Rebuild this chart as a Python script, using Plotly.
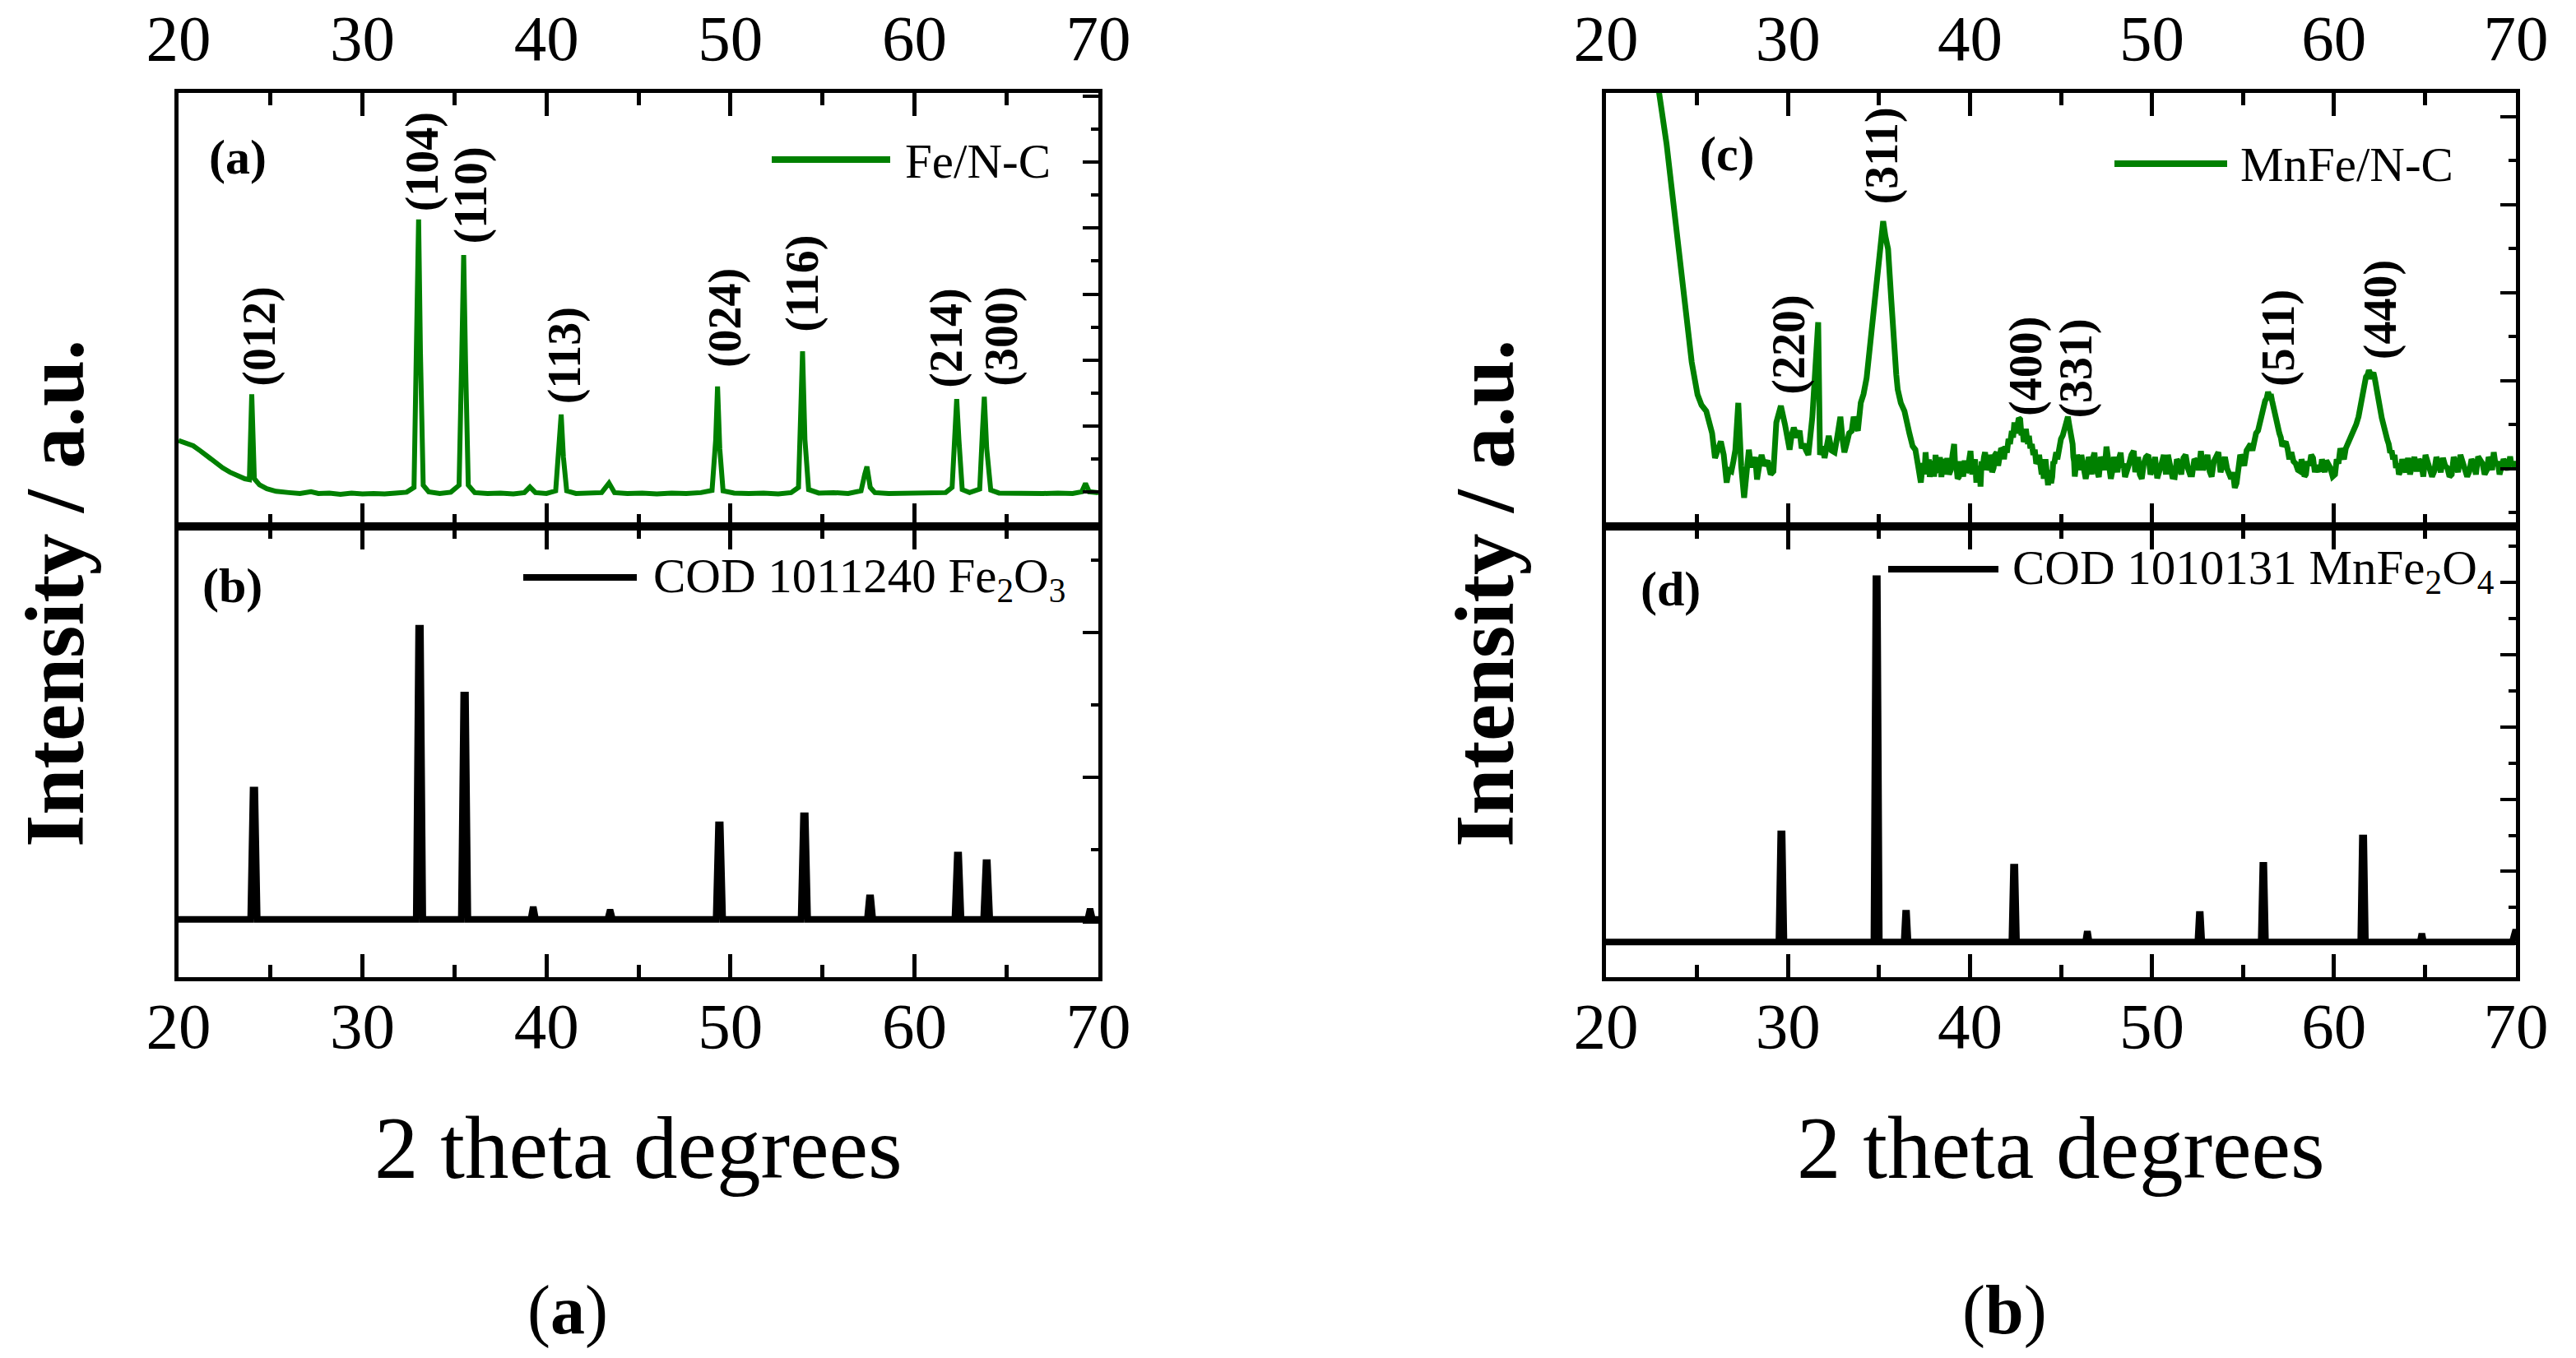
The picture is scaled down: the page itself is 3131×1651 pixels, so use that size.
import plotly.graph_objects as go

W, H = 3131, 1651
SERIF = "Liberation Serif"
GREEN = "rgb(0,128,0)"

# ---------------- data (2theta in degrees, intensity in a.u.) ----------------
fe_nc_x = [20.0, 20.4, 20.8, 21.2, 21.6, 22.0, 22.4, 22.8, 23.2, 23.6, 23.85, 23.98, 24.12,
           24.4, 24.8, 25.3, 26.0, 26.6, 27.2, 27.6, 28.2, 28.8, 29.4, 30.0, 30.6, 31.2,
           31.8, 32.4, 32.8, 32.95, 33.05, 33.15, 33.3, 33.6, 34.2, 34.8, 35.25, 35.4,
           35.5, 35.6, 35.75, 36.1, 36.8, 37.5, 38.2, 38.8, 39.1, 39.4, 40.0, 40.5, 40.7,
           40.8, 40.92, 41.1, 41.6, 42.3, 43.0, 43.4, 43.7, 44.4, 45.2, 46.0, 46.8, 47.6,
           48.4, 49.0, 49.2, 49.3, 49.42, 49.6, 50.2, 51.0, 51.8, 52.6, 53.3, 53.7, 53.83,
           53.92, 54.05, 54.25, 54.8, 55.6, 56.4, 57.1, 57.3, 57.42, 57.6, 57.85, 58.6,
           59.4, 60.2, 61.0, 61.7, 62.05, 62.2, 62.3, 62.42, 62.6, 63.0, 63.55, 63.7,
           63.8, 63.93, 64.15, 64.6, 65.4, 66.2, 67.0, 67.8, 68.6, 69.1, 69.3, 69.5, 70.0]
fe_nc_y = [19.8, 19.2, 18.6, 17.4, 16.0, 14.7, 13.5, 12.5, 11.7, 11.0, 10.8, 30.5, 11.0,
           9.6, 8.7, 8.1, 7.8, 7.6, 8.0, 7.6, 7.7, 7.4, 7.7, 7.5, 7.6, 7.5,
           7.7, 7.9, 9.0, 40.0, 70.8, 40.0, 9.5, 8.0, 7.6, 7.9, 9.5, 40.0,
           62.6, 38.0, 9.5, 7.8, 7.6, 7.7, 7.5, 7.8, 9.1, 7.8, 7.6, 8.2, 18.0,
           25.8, 16.0, 8.2, 7.6, 7.7, 7.8, 10.0, 7.8, 7.6, 7.7, 7.5, 7.7, 7.6,
           7.8, 8.3, 20.0, 32.3, 18.0, 8.2, 7.7, 7.6, 7.7, 7.5, 7.8, 9.0, 25.0,
           40.4, 20.0, 8.5, 7.7, 7.8, 7.6, 8.2, 12.0, 13.8, 9.0, 7.8, 7.6,
           7.7, 7.6, 7.7, 7.8, 9.0, 24.0, 29.4, 20.0, 8.5, 7.8, 8.6, 22.0,
           29.9, 18.0, 8.4, 7.7, 7.6, 7.7, 7.6, 7.7, 7.6, 8.0, 9.9, 8.0, 7.8]

fe_ref_x = [20.0, 23.92, 24.05, 24.15, 24.28, 32.92, 33.05, 33.15, 33.28, 35.37, 35.5, 35.6,
            35.73, 39.15, 39.25, 39.31, 39.41, 43.33, 43.43, 43.49, 43.59, 49.22, 49.35,
            49.45, 49.58, 53.84, 53.97, 54.07, 54.2, 57.44, 57.55, 57.63, 57.74, 62.2,
            62.33, 62.41, 62.54, 63.76, 63.89, 63.97, 64.1, 69.42, 69.52, 69.58, 69.68, 70.0]
fe_ref_y = [12.8, 12.8, 41.5, 41.5, 12.8, 12.8, 77.4, 77.4, 12.8, 12.8, 62.6, 62.6,
            12.8, 12.8, 15.0, 15.0, 12.8, 12.8, 14.4, 14.4, 12.8, 12.8, 33.8,
            33.8, 12.8, 12.8, 35.8, 35.8, 12.8, 12.8, 17.6, 17.6, 12.8, 12.8,
            27.1, 27.1, 12.8, 12.8, 25.4, 25.4, 12.8, 12.8, 14.6, 14.6, 12.8, 12.8]

mnfe_nc_x = [21.8, 22.92, 23.33, 23.62, 23.95, 24.29, 24.57, 24.71, 25.03, 25.25, 25.51, 25.7,
             25.83, 25.99, 26.15, 26.31, 26.47, 26.63, 26.75, 26.89, 27.0, 27.11, 27.27,
             27.43, 27.59, 27.7, 27.85, 27.95, 28.07, 28.2, 28.3, 28.42, 28.55, 28.7,
             28.88, 29.05, 29.2, 29.36, 29.61, 29.84, 29.95, 30.09, 30.2, 30.32, 30.5,
             30.64, 30.75, 30.86, 31.0, 31.12, 31.34, 31.5, 31.66, 31.76, 31.9, 32.01,
             32.12, 32.24, 32.4, 32.56, 32.72, 32.88, 33.0, 33.1, 33.25, 33.36, 33.5,
             33.61, 33.75, 33.84, 34.0, 34.15, 34.32, 34.53, 34.75, 34.94, 35.1, 35.23,
             35.35, 35.5, 35.68, 35.8, 35.95, 36.03, 36.2, 36.4, 36.55, 36.67, 36.85,
             37.0, 37.15, 37.3, 37.38, 37.45, 37.5, 37.56, 37.62, 37.68, 37.74, 37.79,
             37.87, 37.95, 38.03, 38.11, 38.19, 38.27, 38.35, 38.43, 38.52, 38.6, 38.68,
             38.75, 38.85, 38.95, 39.04, 39.13, 39.19, 39.25, 39.32, 39.39, 39.47, 39.55,
             39.63, 39.71, 39.79, 39.87, 39.95, 40.03, 40.12, 40.2, 40.28, 40.35, 40.42,
             40.48, 40.53, 40.58, 40.64, 40.7, 40.77, 40.83, 40.92, 41.0, 41.07, 41.15,
             41.22, 41.3, 41.38, 41.47, 41.55, 41.63, 41.71, 41.79, 41.87, 41.95, 42.03,
             42.12, 42.2, 42.3, 42.37, 42.44, 42.52, 42.6, 42.68, 42.76, 42.83, 42.9,
             42.95, 43.01, 43.07, 43.12, 43.18, 43.24, 43.32, 43.4, 43.48, 43.56, 43.64,
             43.72, 43.8, 43.88, 43.94, 44.0, 44.05, 44.1, 44.15, 44.2, 44.25, 44.29,
             44.35, 44.4, 44.46, 44.52, 44.58, 44.63, 44.69, 44.74, 44.8, 44.87, 44.94,
             45.0, 45.1, 45.2, 45.29, 45.38, 45.45, 45.52, 45.58, 45.64, 45.68, 45.72,
             45.76, 45.8, 45.88, 45.96, 46.04, 46.12, 46.2, 46.28, 46.36, 46.44, 46.52,
             46.6, 46.68, 46.76, 46.84, 46.92, 47.0, 47.08, 47.19, 47.3, 47.4, 47.5,
             47.58, 47.66, 47.74, 47.82, 47.91, 48.0, 48.1, 48.2, 48.28, 48.36, 48.44,
             48.52, 48.63, 48.75, 48.87, 49.0, 49.08, 49.16, 49.24, 49.33, 49.44, 49.55,
             49.67, 49.8, 49.92, 50.05, 50.17, 50.29, 50.41, 50.53, 50.65, 50.77, 50.88,
             51.0, 51.12, 51.25, 51.37, 51.5, 51.61, 51.73, 51.85, 51.97, 52.09, 52.21,
             52.33, 52.45, 52.57, 52.69, 52.81, 52.93, 53.05, 53.17, 53.28, 53.4, 53.52,
             53.65, 53.77, 53.9, 54.01, 54.13, 54.24, 54.35, 54.45, 54.55, 54.65, 54.75,
             54.85, 54.94, 55.07, 55.2, 55.31, 55.42, 55.52, 55.62, 55.72, 55.83, 55.9,
             56.0, 56.08, 56.15, 56.22, 56.3, 56.38, 56.47, 56.53, 56.6, 56.65, 56.7,
             56.75, 56.8, 56.86, 56.92, 57.0, 57.08, 57.16, 57.24, 57.35, 57.45, 57.55,
             57.66, 57.78, 57.9, 58.02, 58.14, 58.22, 58.3, 58.38, 58.46, 58.55, 58.65,
             58.75, 58.85, 58.95, 59.05, 59.15, 59.26, 59.34, 59.42, 59.5, 59.58, 59.69,
             59.8, 59.93, 60.06, 60.15, 60.25, 60.35, 60.45, 60.55, 60.65, 60.76, 60.87,
             60.98, 61.1, 61.22, 61.35, 61.42, 61.5, 61.58, 61.67, 61.76, 61.85, 61.92,
             61.99, 62.04, 62.1, 62.17, 62.24, 62.3, 62.35, 62.41, 62.47, 62.52, 62.58,
             62.63, 62.69, 62.77, 62.85, 62.93, 63.01, 63.09, 63.17, 63.25, 63.33, 63.41,
             63.5, 63.57, 63.65, 63.75, 63.85, 63.96, 64.07, 64.18, 64.3, 64.42, 64.55,
             64.67, 64.8, 64.91, 65.03, 65.15, 65.27, 65.39, 65.51, 65.63, 65.75, 65.87,
             65.99, 66.11, 66.23, 66.35, 66.47, 66.58, 66.7, 66.82, 66.95, 67.07, 67.2,
             67.32, 67.44, 67.56, 67.68, 67.8, 67.92, 68.04, 68.16, 68.28, 68.4, 68.5,
             68.6, 68.69, 68.78, 68.89, 69.0, 69.1, 69.2, 69.32, 69.45, 69.56, 69.68,
             69.76, 69.85, 69.93, 70.0]
mnfe_nc_y = [140.0, 100.0, 88.2, 77.2, 66.1, 51.9, 42.4, 37.9, 30.4, 28.0, 26.6, 23.5,
             21.5, 15.8, 18.0, 19.6, 16.5, 10.1, 13.0, 12.7, 15.0, 17.7, 28.5,
             13.9, 6.6, 12.0, 17.7, 14.5, 13.9, 16.0, 10.8, 14.0, 16.5, 14.0,
             15.2, 12.0, 12.7, 24.0, 27.8, 23.4, 20.0, 17.7, 21.0, 22.8, 20.5,
             22.1, 18.0, 19.0, 17.5, 16.5, 25.3, 38.0, 47.1, 16.5, 18.5, 15.8,
             19.0, 20.9, 17.5, 17.1, 21.0, 25.3, 20.0, 17.1, 19.5, 21.5, 22.0,
             25.3, 23.0, 22.1, 28.5, 30.5, 34.2, 42.4, 53.0, 61.3, 66.0, 70.4,
             67.0, 64.0, 52.0, 42.0, 35.0, 31.6, 28.5, 26.6, 23.0, 21.5, 18.5,
             17.7, 14.0, 10.1, 13.5, 14.5, 12.0, 17.1, 14.0, 13.0, 15.5, 11.4,
             15.0, 14.0, 11.5, 16.5, 12.5, 13.0, 16.0, 11.4, 15.5, 14.5, 12.0,
             15.8, 12.0, 13.0, 16.5, 19.0, 13.5, 14.0, 11.0, 11.4, 15.0, 13.5,
             11.5, 15.2, 12.5, 13.0, 16.0, 17.4, 12.0, 13.5, 15.5, 10.1, 13.0,
             12.0, 14.0, 9.2, 15.0, 13.5, 16.0, 17.1, 13.0, 14.0, 16.5, 15.2,
             12.5, 13.5, 16.5, 17.1, 14.0, 15.5, 18.0, 17.7, 15.5, 18.5, 17.0,
             20.2, 19.0, 22.0, 20.5, 24.0, 21.5, 23.0, 25.0, 24.7, 21.0, 22.0,
             19.5, 20.2, 22.5, 21.5, 19.0, 20.9, 18.0, 19.0, 16.5, 17.7, 14.5,
             15.0, 16.5, 13.9, 12.0, 15.0, 11.0, 12.7, 15.5, 14.0, 10.5, 9.5,
             13.0, 12.0, 10.0, 11.4, 15.0, 14.5, 16.0, 17.1, 15.5, 18.0, 19.5,
             20.2, 21.0, 23.0, 24.5, 25.3, 23.5, 22.0, 20.5, 19.0, 16.0, 15.0,
             11.5, 12.7, 16.5, 15.5, 13.0, 16.5, 15.0, 13.5, 11.0, 12.7, 16.0,
             15.0, 12.0, 15.8, 17.0, 13.0, 12.5, 11.4, 16.0, 15.0, 13.0, 18.4,
             15.5, 14.0, 11.0, 12.7, 16.0, 14.5, 12.5, 15.8, 17.0, 13.5, 14.5,
             11.4, 12.5, 14.5, 16.5, 17.4, 12.5, 14.0, 16.0, 12.0, 11.0, 14.5,
             16.0, 16.5, 12.0, 13.5, 16.0, 11.1, 12.5, 14.5, 16.5, 12.0, 16.5,
             13.5, 11.5, 11.4, 15.5, 14.5, 12.0, 15.8, 16.5, 13.5, 12.0, 12.0,
             15.5, 15.0, 13.0, 17.4, 13.0, 14.5, 16.5, 12.7, 11.5, 15.0, 16.0,
             17.1, 12.5, 15.0, 16.0, 13.3, 11.5, 11.0, 12.5, 8.9, 10.0, 12.5,
             16.5, 15.8, 14.0, 17.5, 18.5, 19.0, 17.5, 20.0, 21.5, 22.1, 23.5,
             25.0, 26.5, 27.8, 29.0, 29.5, 31.0, 30.0, 30.5, 29.0, 28.0, 27.2,
             25.5, 24.5, 23.0, 22.1, 21.5, 20.5, 18.5, 19.0, 19.5, 18.0, 15.5,
             17.1, 15.0, 14.5, 13.0, 12.7, 15.5, 14.0, 11.5, 12.0, 15.0, 14.0,
             16.5, 15.8, 12.5, 14.0, 13.5, 12.7, 15.5, 14.0, 12.5, 15.2, 14.5,
             13.5, 11.5, 12.0, 15.5, 14.5, 18.0, 17.1, 15.5, 18.0, 19.0, 19.6,
             21.0, 22.0, 23.5, 25.3, 27.0, 29.0, 31.0, 32.9, 34.5, 35.0, 36.0,
             35.4, 34.0, 35.0, 35.5, 34.2, 32.5, 31.5, 30.0, 29.1, 27.5, 26.5,
             25.0, 24.0, 22.0, 21.0, 20.0, 19.0, 17.0, 17.5, 15.5, 16.5, 13.5,
             14.5, 12.0, 12.7, 15.5, 14.0, 12.5, 15.8, 12.0, 14.0, 16.0, 12.7,
             15.5, 14.5, 11.5, 16.5, 15.0, 14.0, 11.5, 12.7, 16.0, 14.5, 12.5,
             15.8, 14.0, 13.5, 11.5, 12.0, 16.0, 14.5, 12.5, 16.5, 15.0, 14.0,
             11.5, 12.7, 15.5, 14.5, 12.0, 16.1, 15.0, 14.5, 12.0, 13.0, 16.0,
             15.0, 13.0, 17.1, 14.0, 15.0, 12.0, 13.3, 15.5, 14.5, 13.0, 16.1,
             14.0, 15.0, 13.5, 14.5]

mnfe_ref_x = [20.0, 29.5, 29.6, 29.68, 29.78, 34.72, 34.83, 34.91, 35.02, 36.38, 36.46, 36.52,
              36.6, 42.3, 42.39, 42.47, 42.56, 46.35, 46.42, 46.48, 46.55, 52.52, 52.6,
              52.66, 52.74, 56.0, 56.09, 56.15, 56.24, 61.47, 61.56, 61.64, 61.73, 64.74,
              64.8, 64.86, 64.92, 69.8, 69.95, 70.0]
mnfe_ref_y = [7.8, 7.8, 31.8, 31.8, 7.8, 7.8, 88.4, 88.4, 7.8, 7.8, 14.2, 14.2,
              7.8, 7.8, 24.4, 24.4, 7.8, 7.8, 9.6, 9.6, 7.8, 7.8, 13.9,
              13.9, 7.8, 7.8, 24.8, 24.8, 7.8, 7.8, 30.9, 30.9, 7.8, 7.8,
              9.1, 9.1, 7.8, 7.8, 10.0, 10.0]

x_tick_vals = [20, 30, 40, 50, 60, 70]

fe_hkl = ["(012)", "(104)", "(110)", "(113)", "(024)", "(116)", "(214)", "(300)"]
mnfe_hkl = ["(220)", "(311)", "(400)", "(331)", "(511)", "(440)"]

series_names = ["Fe/N-C", "COD 1011240 Fe<sub>2</sub>O<sub>3</sub>",
                "MnFe/N-C", "COD 1010131 MnFe<sub>2</sub>O<sub>4</sub>"]

# ---------------- layout helpers ----------------
def fx(px):
    return px / W


def fy(py):
    return 1 - py / H


L_DOM = [fx(217), fx(1335)]
R_DOM = [fx(1952), fx(3058)]
TOP_DOM = [fy(640), fy(113)]
BOT_DOM = [fy(1188), fy(640)]

fig = go.Figure()
fig.add_trace(go.Scatter(x=fe_nc_x, y=fe_nc_y, mode="lines", xaxis="x", yaxis="y",
                         line=dict(color=GREEN, width=6), name=series_names[0]))
fig.add_trace(go.Scatter(x=fe_ref_x, y=fe_ref_y, mode="lines", xaxis="x2", yaxis="y2",
                         line=dict(color="black", width=8), name=series_names[1]))
fig.add_trace(go.Scatter(x=mnfe_nc_x, y=mnfe_nc_y, mode="lines", xaxis="x3", yaxis="y3",
                         line=dict(color=GREEN, width=7), name=series_names[2]))
fig.add_trace(go.Scatter(x=mnfe_ref_x, y=mnfe_ref_y, mode="lines", xaxis="x4", yaxis="y4",
                         line=dict(color="black", width=8), name=series_names[3]))


def xaxis(domain, anchor, side, standoff):
    return dict(domain=domain, anchor=anchor, side=side, range=[20, 70],
                tickmode="array", tickvals=x_tick_vals,
                showline=True, linecolor="black", linewidth=5, mirror="ticks",
                ticks="inside", ticklen=28, tickwidth=5, tickcolor="black",
                minor=dict(dtick=5, tick0=20, ticks="inside", ticklen=15, tickwidth=5,
                           tickcolor="black"),
                showgrid=False, zeroline=False, fixedrange=True, automargin=False,
                tickfont=dict(family=SERIF, size=79, color="black"),
                ticklabelstandoff=standoff)


def yaxis(domain, anchor, tick0, dtick):
    return dict(domain=domain, anchor=anchor, side="right", range=[0, 100],
                showline=True, linecolor="black", linewidth=5, mirror=True,
                ticks="inside", ticklen=19, tickwidth=4, tickcolor="black",
                tick0=tick0, dtick=dtick,
                minor=dict(tick0=tick0, dtick=dtick / 2, ticks="inside", ticklen=9,
                           tickwidth=4, tickcolor="black"),
                showticklabels=False, showgrid=False, zeroline=False, fixedrange=True,
                automargin=False)


fig.update_layout(
    width=W, height=H, margin=dict(l=0, r=0, t=0, b=0, autoexpand=False),
    paper_bgcolor="white", plot_bgcolor="white", showlegend=False,
    xaxis=xaxis(L_DOM, "y", "top", 3),
    yaxis=yaxis(TOP_DOM, "x", 8.0, 15.2),
    xaxis2=xaxis(L_DOM, "y2", "bottom", -14),
    yaxis2=yaxis(BOT_DOM, "x2", 12.3, 32.1),
    xaxis3=xaxis(R_DOM, "y3", "top", 3),
    yaxis3=yaxis(TOP_DOM, "x3", 13.3, 20.3),
    xaxis4=xaxis(R_DOM, "y4", "bottom", -14),
    yaxis4=yaxis(BOT_DOM, "x4", 7.4, 16.05),
)

ann = []
# axis titles
for cx in (67, 1805):
    ann.append(dict(text="<b>Intensity / a.u.</b>", x=fx(cx), y=fy(722), xref="paper", yref="paper",
                    textangle=-90, showarrow=False, xanchor="center", yanchor="middle",
                    font=dict(family=SERIF, size=101, color="black")))
for cx in (776, 2505):
    ann.append(dict(text="2 theta degrees", x=fx(cx), y=fy(1396), xref="paper", yref="paper",
                    showarrow=False, xanchor="center", yanchor="middle",
                    font=dict(family=SERIF, size=107, color="black")))
for txt, cx in (("(<b>a</b>)", 690), ("(<b>b</b>)", 2436)):
    ann.append(dict(text=txt, x=fx(cx), y=fy(1593), xref="paper", yref="paper",
                    showarrow=False, xanchor="center", yanchor="middle",
                    font=dict(family=SERIF, size=84, color="black")))
# panel letters
for txt, cx, cy in (("(a)", 289, 191), ("(b)", 282, 712), ("(c)", 2099, 187), ("(d)", 2030, 716)):
    ann.append(dict(text="<b>%s</b>" % txt, x=fx(cx), y=fy(cy), xref="paper", yref="paper",
                    showarrow=False, xanchor="center", yanchor="middle",
                    font=dict(family=SERIF, size=60, color="black")))
# legends (line + label)
legend_spec = [(series_names[0], GREEN, 938, 1082, 194, 1098, 196),
               (series_names[1], "black", 636, 774, 702, 792, 704),
               (series_names[2], GREEN, 2570, 2707, 199, 2721, 200),
               (series_names[3], "black", 2295, 2429, 692, 2444, 694)]
shapes = []
for name, col, x0, x1, ly, tx, ty in legend_spec:
    shapes.append(dict(type="line", xref="paper", yref="paper", x0=fx(x0), x1=fx(x1),
                       y0=fy(ly), y1=fy(ly), line=dict(color=col, width=8)))
    ann.append(dict(text=name, x=fx(tx), y=fy(ty), xref="paper", yref="paper",
                    showarrow=False, xanchor="left", yanchor="middle",
                    font=dict(family=SERIF, size=59, color="black")))
# hkl labels (data coordinates of each panel)
fe_lab_pos = [(24.43, 43.7), (33.26, 84.1), (35.88, 76.4), (40.97, 39.4),
              (49.72, 48.1), (53.94, 56.0), (61.77, 43.5), (64.77, 43.7)]
mn_lab_pos = [(30.06, 41.9), (35.17, 85.4), (43.05, 37.0), (45.83, 36.4),
              (56.95, 43.5), (62.55, 49.9)]
for txt, (lx, ly) in zip(fe_hkl, fe_lab_pos):
    ann.append(dict(text="<b>%s</b>" % txt, x=lx, y=ly, xref="x", yref="y", textangle=-90,
                    showarrow=False, xanchor="center", yanchor="middle",
                    font=dict(family=SERIF, size=56, color="black")))
for txt, (lx, ly) in zip(mnfe_hkl, mn_lab_pos):
    ann.append(dict(text="<b>%s</b>" % txt, x=lx, y=ly, xref="x3", yref="y3", textangle=-90,
                    showarrow=False, xanchor="center", yanchor="middle",
                    font=dict(family=SERIF, size=56, color="black")))

fig.update_layout(annotations=ann, shapes=shapes)

fig.write_html("out.html", post_script="document.body.style.margin='0';",
               config={"displayModeBar": False})
